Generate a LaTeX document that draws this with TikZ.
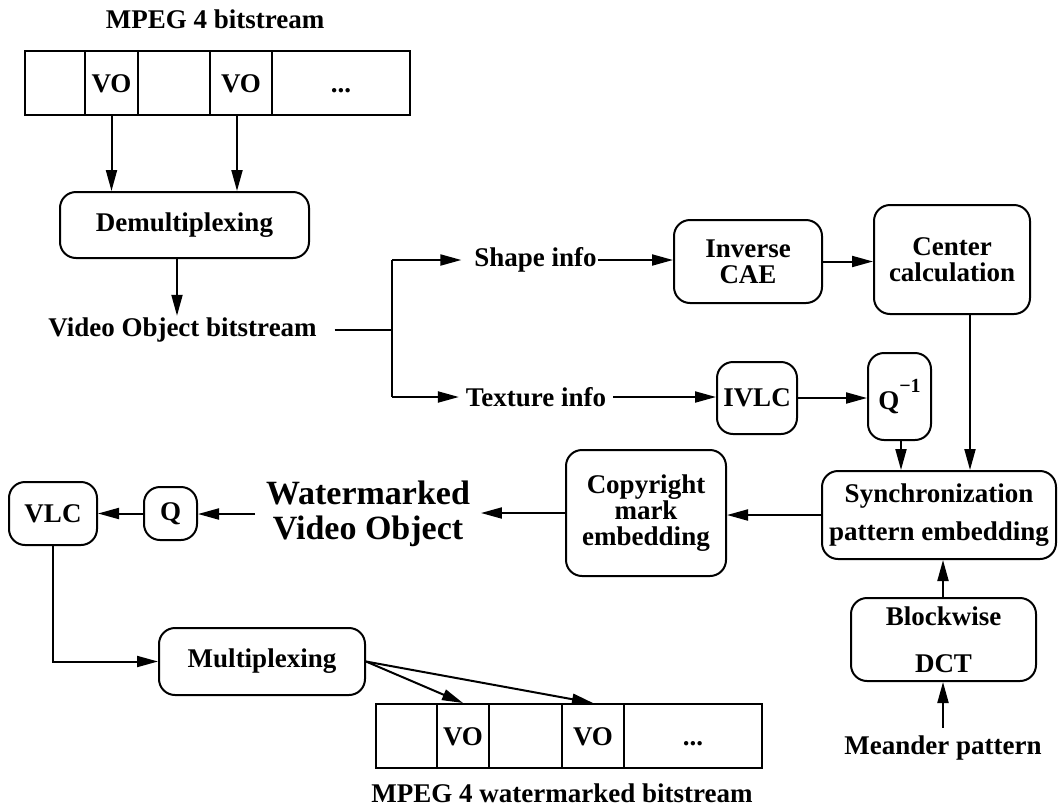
\documentclass[tikz,border=0pt]{standalone}
\usepackage{fontspec}
\setmainfont{Liberation Serif}
\usetikzlibrary{arrows.meta}
\begin{document}
\begin{tikzpicture}[x=1pt,y=-1pt, line width=2pt,
  txt/.style={font=\bfseries\fontsize{27}{26}\selectfont, inner sep=0pt, align=center},
  box/.style={txt, draw, rounded corners=16pt},
  cell/.style={txt, draw, minimum height=64pt, text height=18pt, text depth=0pt},
  arr/.style={-{Triangle[length=21pt,width=11pt]}}]
\useasboundingbox (0,0) rectangle (1058,809);

% top bitstream
\node[txt] (t1) at (215,19) {MPEG 4 bitstream};
\node[cell, minimum width=60pt]  (c1) at (55,83) {};
\node[cell, minimum width=53pt]  (c2) at (111.5,83) {VO};
\node[cell, minimum width=72pt]  (c3) at (174,83) {};
\node[cell, minimum width=62pt]  (c4) at (241,83) {VO};
\node[cell, minimum width=138pt] (c5) at (341,83) {...};

\node[box, minimum width=249pt, minimum height=66pt] (demux) at (184.5,225) {Demultiplexing};
\draw[arr] (c2.south) -- (c2.south |- demux.north);
\draw[arr] ([xshift=-4pt]c4.south) -- ([xshift=-4pt]c4.south |- demux.north);

\node[txt, inner xsep=17pt, inner ysep=1pt] (vob) at (182.5,330) {Video Object bitstream};
\draw[arr] ([xshift=-7.5pt]demux.south) -- ([xshift=-7.5pt]demux.south |- vob.north);

% branch
\coordinate (brT) at (392,260);
\coordinate (brB) at (392,397);
\draw (vob.east) -- (vob.east -| brT);
\draw (brT) -- (brB);
\node[txt] (shape) at (529.5,260) {\hspace*{12pt}Shape info};
\node[txt, inner xsep=6pt] (texture) at (536,397) {Texture info};
\draw[arr] (brT) -- (shape.west);
\draw[arr] (brB) -- (texture.west);

\node[box, minimum width=148pt, minimum height=83pt] (inv) at (748,261.5) {Inverse\\CAE};
\node[box, minimum width=156pt, minimum height=109pt] (cen) at (952,259.5) {Center\\calculation};
\draw[arr] (shape.east) -- (shape.east -| inv.west);
\draw[arr] (inv.east) -- (inv.east -| cen.west);

\node[box, minimum width=80pt, minimum height=72pt] (ivlc) at (757,398) {IVLC};
\node[box, minimum width=63pt, minimum height=87pt] (qinv) at (899.5,396.5) {Q\raisebox{17pt}{\fontsize{20}{20}\selectfont −1}};
\draw[arr] (texture.east) -- (texture.east -| ivlc.west);
\draw[arr] (ivlc.east) -- (ivlc.east -| qinv.west);

\node[box, font=\bfseries\fontsize{27}{38}\selectfont, minimum width=234pt, minimum height=88pt] (sync) at (939,515) {Synchronization\\pattern embedding};
\draw[arr] ([xshift=1.5pt]qinv.south) -- ([xshift=1.5pt]qinv.south |- sync.north);
\draw[arr] ([xshift=18pt]cen.south) -- ([xshift=18pt]cen.south |- sync.north);

\node[box, font=\bfseries\fontsize{27}{47}\selectfont, minimum width=185pt, minimum height=83pt] (dct) at (943.5,639.5) {Blockwise\\DCT};
\node[txt, inner ysep=7pt] (mea) at (943,748) {Meander pattern};
\draw[arr] (mea.north) -- (mea.north |- dct.south);
\draw[arr] (dct.north -| mea.north) -- (mea.north |- sync.south);

\node[box, minimum width=160pt, minimum height=126pt] (copy) at (646,513) {Copyright\\mark\\embedding};
\draw[arr] (sync.west) -- (sync.west -| copy.east);

\node[txt, font=\bfseries\fontsize{34}{35}\selectfont, inner xsep=10pt] (wm) at (368,514) {Watermarked\\Video Object};
\draw[arr] (copy.west) -- (copy.west -| wm.east);

\node[box, minimum width=53pt, minimum height=53pt] (q) at (170.5,513.5) {Q};
\node[box, minimum width=88pt, minimum height=63pt] (vlc) at (53,513.5) {VLC};
\draw[arr] (wm.west) -- (wm.west -| q.east);
\draw[arr] (q.west) -- (q.west -| vlc.east);

\node[box, minimum width=206pt, minimum height=67pt] (mux) at (262,661.5) {Multiplexing};
\draw[arr] (vlc.south) |- (mux.west);

% bottom bitstream
\node[cell, minimum width=61pt]  (d1) at (406.5,736) {};
\node[cell, minimum width=52pt]  (d2) at (463,736) {VO};
\node[cell, minimum width=73pt]  (d3) at (525.5,736) {};
\node[cell, minimum width=62pt]  (d4) at (593,736) {VO};
\node[cell, minimum width=138pt] (d5) at (693,736) {...};
\node[txt] (t2) at (562,793) {MPEG 4 watermarked bitstream};
\draw[arr] (mux.east) -- (d2.north);
\draw[arr] (mux.east) -- (d4.north);
\end{tikzpicture}
\end{document}
